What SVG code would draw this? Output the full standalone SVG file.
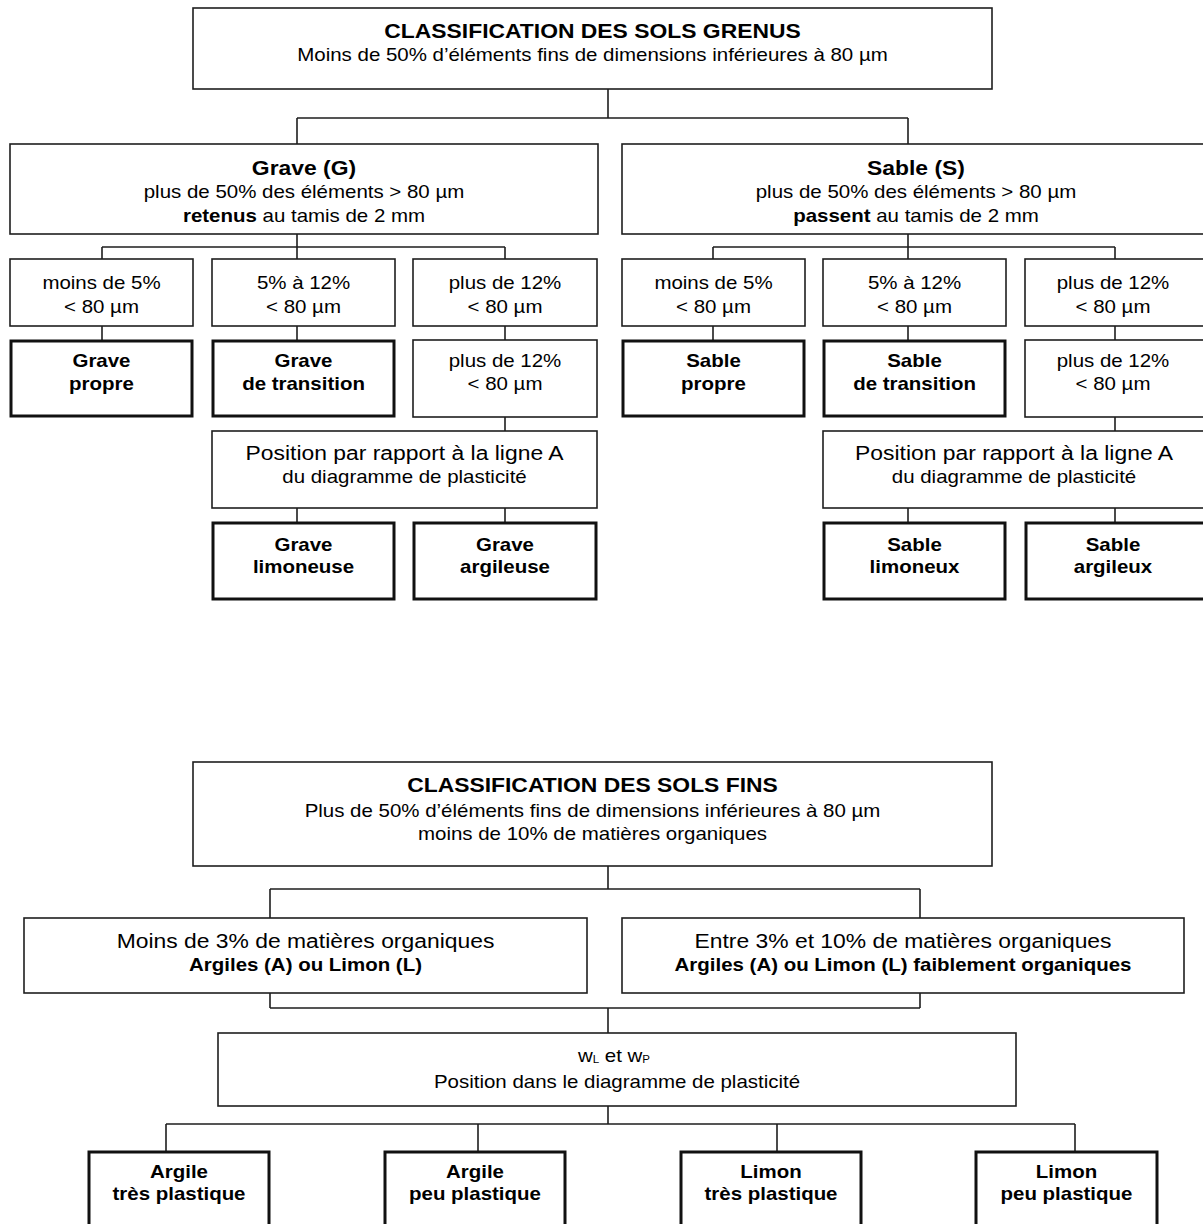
<svg xmlns="http://www.w3.org/2000/svg" width="1203" height="1224" viewBox="0 0 1203 1224">
<style>
.b{fill:#fff;stroke:#1e1e1e;stroke-width:1.6}
.k{fill:#fff;stroke:#111;stroke-width:3}
.c{fill:none;stroke:#1e1e1e;stroke-width:1.6}
text{font-family:"Liberation Sans",Arial,sans-serif;text-anchor:middle;fill:#000}
.L{font-size:20.8px}
.N{font-size:18.6px}
.B{font-weight:bold}
.s{font-size:10.5px}
</style>
<rect width="1203" height="1224" fill="#fff"/>
<g id="connectors" class="c">
<path d="M608 89V118M297 118H908M297 118V144M908 118V144"/>
<path d="M297 234V259M102 247H505M102 247V259M505 247V259"/>
<path d="M908 234V259M713 247H1115M713 247V259M1115 247V259"/>
<path d="M102 326V340M297 326V340M505 326V340M713 326V340M908 326V340M1115 326V340"/>
<path d="M505 417V431M1115 417V431M297 508V522M505 508V522M908 508V522M1115 508V522"/>
<path d="M608 866V889M270 889H920M270 889V918M920 889V918"/>
<path d="M270 993V1008M920 993V1008M270 1008H920M608 1008V1033"/>
<path d="M608 1106V1124M166 1124H1075M166 1124V1151M478 1124V1151M777 1124V1151M1075 1124V1151"/>
</g>
<g id="grenus">
<rect class="b" x="193" y="8" width="799" height="81"/>
<text class="L B" transform="translate(592.5 0) scale(1.1 1)" y="38">CLASSIFICATION DES SOLS GRENUS</text>
<text class="N" transform="translate(592.5 0) scale(1.1 1)" y="61">Moins de 50% d’éléments fins de dimensions inférieures à 80 µm</text>
</g>
<g id="grave">
<rect class="b" x="10" y="144" width="588" height="90"/>
<text class="L B" transform="translate(304 0) scale(1.1 1)" y="175">Grave (G)</text>
<text class="N" transform="translate(304 0) scale(1.1 1)" y="198.5">plus de 50% des éléments &gt; 80 µm</text>
<text class="N" transform="translate(304 0) scale(1.1 1)" y="222"><tspan class="B">retenus</tspan> au tamis de 2 mm</text>
</g>
<g id="sable">
<rect class="b" x="622" y="144" width="590" height="90"/>
<text class="L B" transform="translate(916 0) scale(1.1 1)" y="175">Sable (S)</text>
<text class="N" transform="translate(916 0) scale(1.1 1)" y="198.5">plus de 50% des éléments &gt; 80 µm</text>
<text class="N" transform="translate(916 0) scale(1.1 1)" y="222"><tspan class="B">passent</tspan> au tamis de 2 mm</text>
</g>
<g id="g1">
<rect class="b" x="10" y="259" width="183" height="67"/>
<text class="N" transform="translate(101.5 0) scale(1.1 1)" y="289">moins de 5%</text>
<text class="N" transform="translate(101.5 0) scale(1.1 1)" y="313">&lt; 80 µm</text>
</g>
<g id="g2">
<rect class="b" x="212" y="259" width="183" height="67"/>
<text class="N" transform="translate(303.5 0) scale(1.1 1)" y="289">5% à 12%</text>
<text class="N" transform="translate(303.5 0) scale(1.1 1)" y="313">&lt; 80 µm</text>
</g>
<g id="g3">
<rect class="b" x="413" y="259" width="184" height="67"/>
<text class="N" transform="translate(505 0) scale(1.1 1)" y="289">plus de 12%</text>
<text class="N" transform="translate(505 0) scale(1.1 1)" y="313">&lt; 80 µm</text>
</g>
<g id="s1">
<rect class="b" x="622" y="259" width="183" height="67"/>
<text class="N" transform="translate(713.5 0) scale(1.1 1)" y="289">moins de 5%</text>
<text class="N" transform="translate(713.5 0) scale(1.1 1)" y="313">&lt; 80 µm</text>
</g>
<g id="s2">
<rect class="b" x="823" y="259" width="183" height="67"/>
<text class="N" transform="translate(914.5 0) scale(1.1 1)" y="289">5% à 12%</text>
<text class="N" transform="translate(914.5 0) scale(1.1 1)" y="313">&lt; 80 µm</text>
</g>
<g id="s3">
<rect class="b" x="1025" y="259" width="184" height="67"/>
<text class="N" transform="translate(1113 0) scale(1.1 1)" y="289">plus de 12%</text>
<text class="N" transform="translate(1113 0) scale(1.1 1)" y="313">&lt; 80 µm</text>
</g>
<g id="grave-propre">
<rect class="k" x="11" y="341" width="181" height="75"/>
<text class="N B" transform="translate(101.5 0) scale(1.1 1)" y="367">Grave</text>
<text class="N B" transform="translate(101.5 0) scale(1.1 1)" y="390">propre</text>
</g>
<g id="grave-transition">
<rect class="k" x="213" y="341" width="181" height="75"/>
<text class="N B" transform="translate(303.5 0) scale(1.1 1)" y="367">Grave</text>
<text class="N B" transform="translate(303.5 0) scale(1.1 1)" y="390">de transition</text>
</g>
<g id="g3b">
<rect class="b" x="413" y="340" width="184" height="77"/>
<text class="N" transform="translate(505 0) scale(1.1 1)" y="367">plus de 12%</text>
<text class="N" transform="translate(505 0) scale(1.1 1)" y="390">&lt; 80 µm</text>
</g>
<g id="sable-propre">
<rect class="k" x="623" y="341" width="181" height="75"/>
<text class="N B" transform="translate(713.5 0) scale(1.1 1)" y="367">Sable</text>
<text class="N B" transform="translate(713.5 0) scale(1.1 1)" y="390">propre</text>
</g>
<g id="sable-transition">
<rect class="k" x="824" y="341" width="181" height="75"/>
<text class="N B" transform="translate(914.5 0) scale(1.1 1)" y="367">Sable</text>
<text class="N B" transform="translate(914.5 0) scale(1.1 1)" y="390">de transition</text>
</g>
<g id="s3b">
<rect class="b" x="1025" y="340" width="184" height="77"/>
<text class="N" transform="translate(1113 0) scale(1.1 1)" y="367">plus de 12%</text>
<text class="N" transform="translate(1113 0) scale(1.1 1)" y="390">&lt; 80 µm</text>
</g>
<g id="pos-g">
<rect class="b" x="212" y="431" width="385" height="77"/>
<text class="L" transform="translate(404.5 0) scale(1.1 1)" y="460">Position par rapport à la ligne A</text>
<text class="N" transform="translate(404.5 0) scale(1.1 1)" y="483">du diagramme de plasticité</text>
</g>
<g id="pos-s">
<rect class="b" x="823" y="431" width="387" height="77"/>
<text class="L" transform="translate(1014 0) scale(1.1 1)" y="460">Position par rapport à la ligne A</text>
<text class="N" transform="translate(1014 0) scale(1.1 1)" y="483">du diagramme de plasticité</text>
</g>
<g id="grave-limoneuse">
<rect class="k" x="213" y="523" width="181" height="76"/>
<text class="N B" transform="translate(303.5 0) scale(1.1 1)" y="551">Grave</text>
<text class="N B" transform="translate(303.5 0) scale(1.1 1)" y="573">limoneuse</text>
</g>
<g id="grave-argileuse">
<rect class="k" x="414" y="523" width="182" height="76"/>
<text class="N B" transform="translate(505 0) scale(1.1 1)" y="551">Grave</text>
<text class="N B" transform="translate(505 0) scale(1.1 1)" y="573">argileuse</text>
</g>
<g id="sable-limoneux">
<rect class="k" x="824" y="523" width="181" height="76"/>
<text class="N B" transform="translate(914.5 0) scale(1.1 1)" y="551">Sable</text>
<text class="N B" transform="translate(914.5 0) scale(1.1 1)" y="573">limoneux</text>
</g>
<g id="sable-argileux">
<rect class="k" x="1026" y="523" width="183" height="76"/>
<text class="N B" transform="translate(1113 0) scale(1.1 1)" y="551">Sable</text>
<text class="N B" transform="translate(1113 0) scale(1.1 1)" y="573">argileux</text>
</g>
<g id="fins">
<rect class="b" x="193" y="762" width="799" height="104"/>
<text class="L B" transform="translate(592.5 0) scale(1.1 1)" y="792">CLASSIFICATION DES SOLS FINS</text>
<text class="N" transform="translate(592.5 0) scale(1.1 1)" y="817.5">Plus de 50% d’éléments fins de dimensions inférieures à 80 µm</text>
<text class="N" transform="translate(592.5 0) scale(1.1 1)" y="840">moins de 10% de matières organiques</text>
</g>
<g id="moins3">
<rect class="b" x="24" y="918" width="563" height="75"/>
<text class="L" transform="translate(305.5 0) scale(1.1 1)" y="948">Moins de 3% de matières organiques</text>
<text class="N B" transform="translate(305.5 0) scale(1.1 1)" y="971">Argiles (A) ou Limon (L)</text>
</g>
<g id="entre3-10">
<rect class="b" x="622" y="918" width="562" height="75"/>
<text class="L" transform="translate(903 0) scale(1.1 1)" y="948">Entre 3% et 10% de matières organiques</text>
<text class="N B" transform="translate(903 0) scale(1.1 1)" y="971">Argiles (A) ou Limon (L) faiblement organiques</text>
</g>
<g id="wl-wp">
<rect class="b" x="218" y="1033" width="798" height="73"/>
<text class="N" transform="translate(614 0) scale(1.1 1)" y="1062">w<tspan class="s" dy="1">L</tspan><tspan dy="-1"> et w</tspan><tspan class="s" dy="1">P</tspan></text>
<text class="N" transform="translate(617 0) scale(1.1 1)" y="1088">Position dans le diagramme de plasticité</text>
</g>
<g id="argile-tp">
<rect class="k" x="89" y="1152" width="180" height="90"/>
<text class="N B" transform="translate(179 0) scale(1.1 1)" y="1178">Argile</text>
<text class="N B" transform="translate(179 0) scale(1.1 1)" y="1200">très plastique</text>
</g>
<g id="argile-pp">
<rect class="k" x="385" y="1152" width="180" height="90"/>
<text class="N B" transform="translate(475 0) scale(1.1 1)" y="1178">Argile</text>
<text class="N B" transform="translate(475 0) scale(1.1 1)" y="1200">peu plastique</text>
</g>
<g id="limon-tp">
<rect class="k" x="681" y="1152" width="180" height="90"/>
<text class="N B" transform="translate(771 0) scale(1.1 1)" y="1178">Limon</text>
<text class="N B" transform="translate(771 0) scale(1.1 1)" y="1200">très plastique</text>
</g>
<g id="limon-pp">
<rect class="k" x="976" y="1152" width="181" height="90"/>
<text class="N B" transform="translate(1066.5 0) scale(1.1 1)" y="1178">Limon</text>
<text class="N B" transform="translate(1066.5 0) scale(1.1 1)" y="1200">peu plastique</text>
</g>
</svg>
